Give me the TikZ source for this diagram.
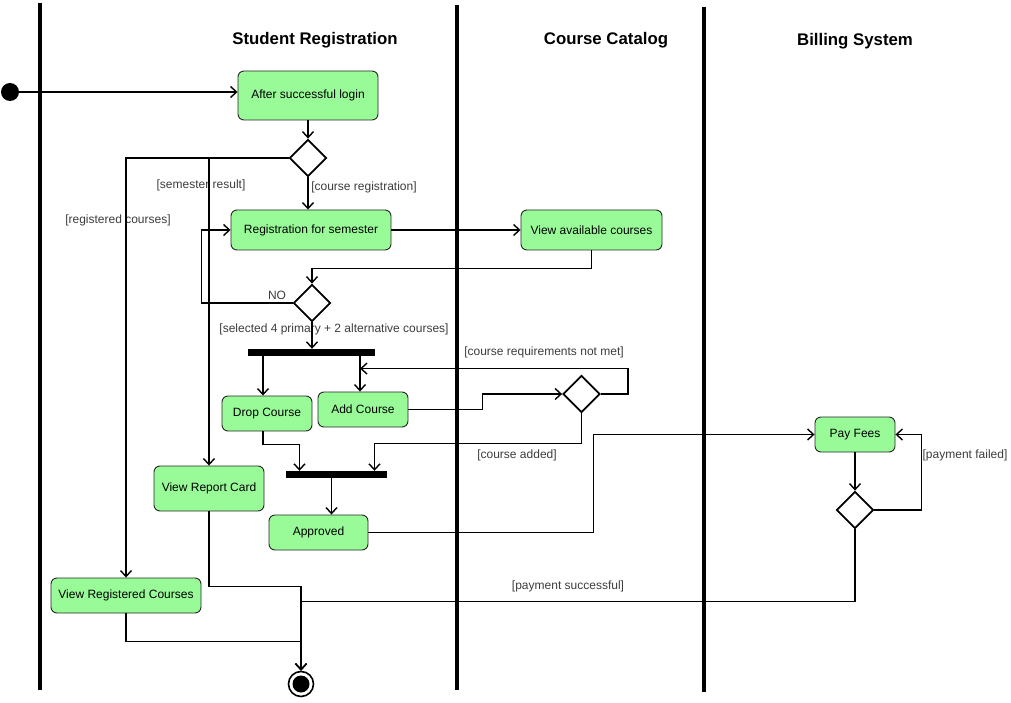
\documentclass[tikz,border=0pt]{standalone}
\usepackage{fontspec}
\setmainfont{Liberation Sans}
\usetikzlibrary{arrows.meta,shapes.geometric}
\definecolor{actgreen}{RGB}{152,251,152}
\definecolor{lbl}{RGB}{60,60,60}
\tikzset{
  act/.style={draw=black!85, line width=0.9pt, rounded corners=6pt, fill=actgreen,
    inner sep=0pt, font=\fontsize{12}{14}\selectfont},
  dec/.style={diamond, draw, line width=1.8pt, fill=white, minimum width=37pt, minimum height=37pt, inner sep=0pt},
  bar/.style={rectangle, fill=black, inner sep=0pt, minimum height=7pt},
  flow/.style={line width=1.6pt, -{Straight Barb[length=6pt,width=11pt,line width=1.4pt]}},
  wire/.style={line width=1.6pt},
  lane/.style={line width=3.2pt},
  ttl/.style={font=\bfseries\fontsize{16.8}{19}\selectfont, inner sep=0pt},
  lab/.style={font=\fontsize{12}{14}\selectfont, text=lbl, inner sep=0pt},
}
\begin{document}
\begin{tikzpicture}[x=1pt,y=-1pt]
\useasboundingbox (0,0) rectangle (1011,703);
% swimlanes
\draw[lane] (40,3) -- (40,690);
\draw[lane] (457,5) -- (457,690);
\draw[lane] (704,7) -- (704,692);
\node[ttl] (t1) at (315,40) {Student Registration};
\node[ttl] (t2) at (606,40) {Course Catalog};
\node[ttl] (t3) at (855,41) {Billing System};

% nodes
\node[circle, fill=black, minimum size=18pt, inner sep=0pt] (start) at (10,92) {};
\node[act, minimum width=140pt, minimum height=49pt] (login) at (308,95.5) {After successful login};
\node[dec] (d1) at (308,158) {};
\node[act, minimum width=160pt, minimum height=40pt] (reg) at (311,230) {Registration for semester};
\node[act, minimum width=141pt, minimum height=40pt] (vac) at (591.5,230) {View available courses};
\node[dec] (d2) at (312,303) {};
\node[bar, minimum width=127pt] (bar1) at (311.5,352.5) {};
\node[act, minimum width=90pt, minimum height=35pt] (drop) at (267,413.5) {Drop Course};
\node[act, minimum width=90pt, minimum height=35pt] (add) at (363,409.5) {Add Course};
\node[dec] (d3) at (581.5,394) {};
\node[bar, minimum width=101pt] (bar2) at (336.5,474.5) {};
\node[act, minimum width=99pt, minimum height=35pt] (appr) at (318.5,532.5) {Approved};
\node[act, minimum width=80pt, minimum height=35pt] (pay) at (855,434.5) {Pay Fees};
\node[dec] (d4) at (855,510) {};
\node[act, minimum width=110pt, minimum height=45pt] (vrep) at (209,488.5) {View Report Card};
\node[act, minimum width=150pt, minimum height=35pt] (vrc) at (126,595.5) {View Registered Courses};
\node[circle, draw, line width=1.6pt, minimum size=25pt, inner sep=0pt] (final) at (301,684) {};
\fill (final) circle (8.5pt);

% labels
\node[lab] (l1) at (201,185) {[semester result]};
\node[lab] (l2) at (118,220) {[registered courses]};
\node[lab] (l3) at (364,187) {[course registration]};
\node[lab] (l4) at (277,295) {NO};
\node[lab] (l5) at (334,329) {[selected 4 primary + 2 alternative courses]};
\node[lab] (l6) at (544,352) {[course requirements not met]};
\node[lab] (l7) at (517,455) {[course added]};
\node[lab] (l8) at (965,455) {[payment failed]};
\node[lab] (l9) at (568,586) {[payment successful]};

% connectors
\draw[flow] (start.east) -- (start.east -| login.west);
\draw[flow] (login.south) -- (d1.north);
\draw[flow] (d1.west) -| (vrc.north);
\draw[flow] (d1.west) -| (vrep.north);
\draw[flow] (d1.south) -- (d1.south |- reg.north);
\draw[flow] (reg.east) -- (vac.west);
\draw[flow] (vac.south) -- ++(0,18) -| (d2.north);
\draw[flow] (d2.west) -- ++(-91,0) |- (reg.west);
\draw[flow] (d2.south) -- (d2.south |- bar1.north);
\draw[flow] ([xshift=-4pt]drop.north |- bar1.south) -- ([xshift=-4pt]drop.north);
\draw[flow] ([xshift=-3pt]add.north |- bar1.south) -- ([xshift=-3pt]add.north);
\draw[flow] (add.east) -- ++(74,0) |- (d3.west);
\draw[flow] (d3.east) -- ++(27,0) |- ([xshift=-3pt,yshift=23pt]add.north);
\draw[flow] (d3.south) -- ++(0,30) -| ([xshift=38pt]bar2.north);
\draw[flow] ([xshift=-4pt]drop.south) -- ++(0,13) -| ([xshift=-37pt]bar2.north);
\draw[flow] ([xshift=-5pt]bar2.south) -- ([xshift=-5pt]bar2.south |- appr.north);
\draw[flow] (appr.east) -- ++(225,0) |- (pay.west);
\draw[flow] (pay.south) -- (d4.north);
\draw[flow] (d4.east) -- ++(47,0) |- (pay.east);
\draw[flow] (d4.south) -- ++(0,72) -| (final.north);
\draw[flow] (vrep.south) -- ++(0,75) -| (final.north);
\draw[flow] (vrc.south) -- ++(0,28) -| (final.north);
\end{tikzpicture}
\end{document}
